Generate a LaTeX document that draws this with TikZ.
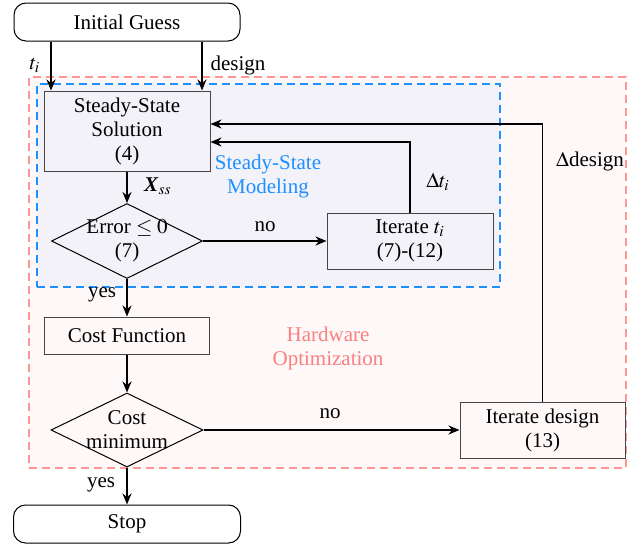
\documentclass[tikz,border=0pt]{standalone}
\usepackage{mathptmx}
\usepackage{fontspec}
\setmainfont{Liberation Serif}
\usetikzlibrary{shapes.geometric,arrows.meta,calc}
\definecolor{hwred}{RGB}{255,150,150}
\definecolor{hwfill}{RGB}{255,248,248}
\definecolor{hwtext}{RGB}{250,128,128}
\definecolor{ssblue}{RGB}{30,144,255}
\definecolor{ssfill}{RGB}{242,242,248}
\definecolor{boxline}{RGB}{70,70,70}
\tikzset{
  every node/.style={font=\fontsize{10.5}{12}\selectfont},
  blockbox/.style={draw=boxline, line width=0.5pt, align=center, inner sep=0pt},
  termbox/.style={draw=black, line width=0.5pt, rounded corners=6pt, align=center, inner sep=0pt},
  decbox/.style={draw=black, line width=0.5pt, diamond, inner sep=0pt},
  arr/.style={line width=0.9pt, -{Stealth[length=5.5pt,width=4.5pt]}},
  plainlbl/.style={inner sep=1pt},
}
\begin{document}
\begin{tikzpicture}[x=0.5pt,y=-0.5pt]
\useasboundingbox (0,0) rectangle (644,546);
% containers
\node[draw=hwred, fill=hwfill, dash pattern=on 4pt off 2.5pt, line width=0.6pt,
      minimum width=298.5pt, minimum height=195.5pt, inner sep=0pt] (hw) at (327.5,272.5) {};
\node[draw=ssblue, fill=ssfill, dash pattern=on 4pt off 2.5pt, line width=0.6pt,
      minimum width=231.5pt, minimum height=101.5pt, inner sep=0pt] (ssm) at (268.5,185.5) {};
% blocks
\node[termbox, minimum width=113pt, minimum height=19pt] (ig) at (127,22) {Initial Guess};
\node[blockbox, minimum width=83pt, minimum height=40pt] (sss) at (127,131) {Steady-State\\Solution\\(4)};
\node[decbox, minimum width=75.5pt, minimum height=37.5pt,
      label={[align=center, inner sep=0pt]center:Error $\leq 0$\\(7)}] (err) at (127,241) {};
\node[blockbox, minimum width=83pt, minimum height=28pt] (itt) at (410,241) {Iterate $t_i$\\(7)-(12)};
\node[blockbox, minimum width=82.5pt, minimum height=18.5pt] (cf) at (127,335.5) {Cost Function};
\node[decbox, minimum width=76pt, minimum height=37pt,
      label={[align=center, inner sep=0pt]center:Cost\\minimum}] (cm) at (127,430) {};
\node[blockbox, minimum width=82.5pt, minimum height=28pt] (itd) at (542.5,430) {Iterate design\\(13)};
\node[termbox, minimum width=113.5pt, minimum height=19pt] (stop) at (127,524) {Stop};
% region labels
\node[text=ssblue, align=center] (ssmlbl) at (268,176) {Steady-State\\Modeling};
\node[text=hwtext, align=center] (hwlbl) at (328,348) {Hardware\\Optimization};
% helper coordinates
\coordinate (xa) at (51,0);
\coordinate (xb) at (202,0);
\coordinate (ya) at (0,124);
\coordinate (yb) at (0,142);
% connectors
\draw[arr] (ig.south -| xa) -- (sss.north -| xa);
\draw[arr] (ig.south -| xb) -- (sss.north -| xb);
\draw[arr] (sss) -- (err);
\draw[arr] (err.east) -- (itt.west);
\draw[arr] (itt.north) |- (sss.east |- yb);
\draw[arr] (itd.north) |- (sss.east |- ya);
\draw[arr] (err.south) -- (cf.north);
\draw[arr] (cf.south) -- (cm.north);
\draw[arr] (cm.east) -- (itd.west);
\draw[arr] (cm.south) -- (stop.north);
% edge labels
\node[plainlbl] (lti) at (35,65) {$t_i$};
\node[plainlbl] (ldes) at (238,65) {design};
\node[plainlbl] (lxss) at (158,186) {\textbf{\textit{X}}$_{ss}$};
\node[plainlbl] (lno1) at (265,227) {no};
\node[plainlbl] (ldti) at (438,182) {$\Delta t_i$};
\node[plainlbl] (lddes) at (590,161) {$\Delta$design};
\node[plainlbl] (lyes1) at (102,295) {yes};
\node[plainlbl] (lno2) at (330,414) {no};
\node[plainlbl] (lyes2) at (101,485) {yes};
\end{tikzpicture}
\end{document}
